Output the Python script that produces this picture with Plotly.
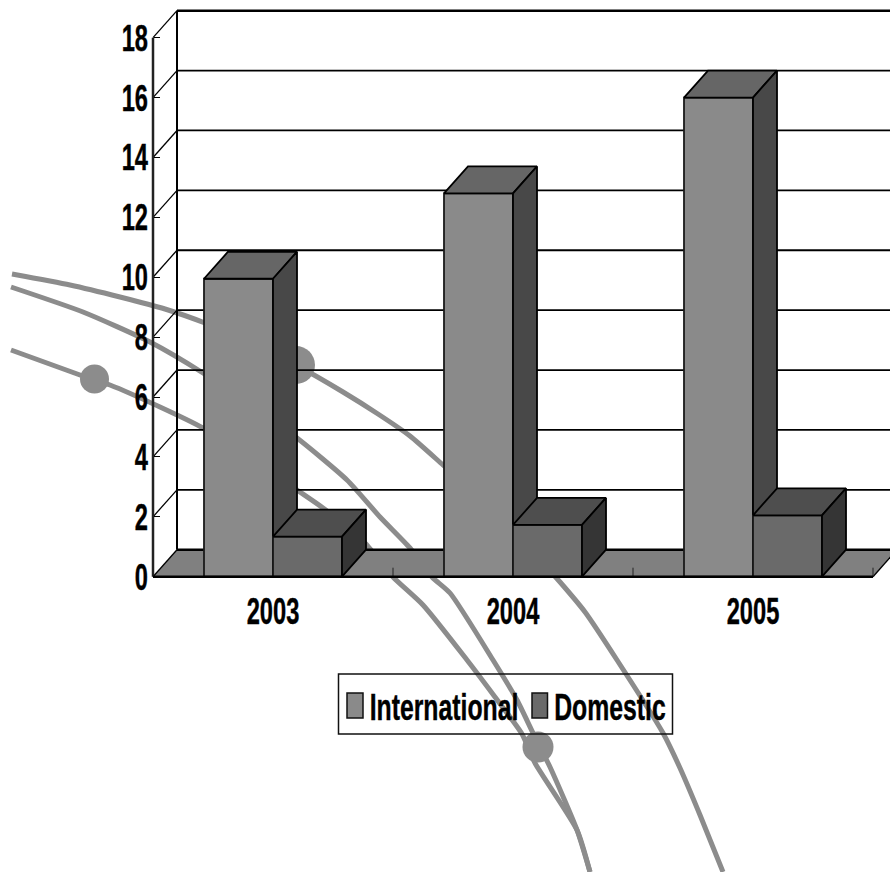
import plotly.graph_objects as go

# Chart values
years = ["2003", "2004", "2005"]
international = [9.95, 12.8, 16.0]
domestic = [1.34, 1.73, 2.05]
y_ticks = [0, 2, 4, 6, 8, 10, 12, 14, 16, 18]

# Background curves, on a 890 x 872 canvas scale
curve_a_x = [12, 70, 120, 165, 205, 250, 296, 343, 378, 410, 443, 480, 520, 560, 585, 617, 663, 680, 700, 723]
curve_a_y = [274, 285, 297, 309, 323, 342, 365, 392, 414, 436, 465, 498, 538, 582, 612, 660, 733, 768, 815, 872]
curve_b_x = [11, 83, 150, 203, 250, 297, 347, 380, 410, 432, 450, 493, 517, 533, 550, 577, 590]
curve_b_y = [287, 312, 342, 373, 405, 438, 480, 517, 548, 577, 593, 660, 700, 733, 767, 830, 872]
curve_c_x = [11, 80, 110, 160, 203, 250, 297, 323, 365, 393, 423, 467, 495, 522, 535, 577, 590]
curve_c_y = [350, 375, 385, 407, 428, 458, 490, 508, 543, 577, 605, 660, 697, 734, 763, 830, 872]
dots_x = [94.5, 296, 538]
dots_y = [379, 365, 747]
dots_size = [29, 38, 31]

WIDTH, HEIGHT = 890, 872
PX_PER_CAT, PX_PER_UNIT = 240.0, 29.945
ORIGIN_X, ORIGIN_Y = 153.0, 576.7
X_RANGE = [-0.5 - ORIGIN_X / PX_PER_CAT, -0.5 + (WIDTH - ORIGIN_X) / PX_PER_CAT]
Y_RANGE = [-(HEIGHT - ORIGIN_Y) / PX_PER_UNIT, ORIGIN_Y / PX_PER_UNIT]

DX, DY = 24 / PX_PER_CAT, 27 / PX_PER_UNIT   # oblique depth of the box
BAR_W = 69 / PX_PER_CAT
LEFT, RIGHT = -0.5, 2.5
FONT = "Liberation Sans"
FONT_SIZE = 37
CURVE_GREY = "#8c8c8c"

fig = go.Figure()


def polygon(xs, ys, fill, axes, line="#000000", width=1.8):
    fig.add_trace(go.Scatter(
        x=xs + xs[:1], y=ys + ys[:1], mode="lines", fill="toself", fillcolor=fill,
        line=dict(color=line, width=width), xaxis=axes[0], yaxis=axes[1],
        showlegend=False, hoverinfo="skip"))


def segments(pairs, axes, color="#000000", width=1.5):
    xs, ys = [], []
    for (x0, y0, x1, y1) in pairs:
        xs += [x0, x1, None]
        ys += [y0, y1, None]
    fig.add_trace(go.Scatter(
        x=xs, y=ys, mode="lines", line=dict(color=color, width=width),
        xaxis=axes[0], yaxis=axes[1], showlegend=False, hoverinfo="skip"))


# Layer 0: grey curves and dots behind the chart
for cx, cy in [(curve_a_x, curve_a_y), (curve_b_x, curve_b_y), (curve_c_x, curve_c_y)]:
    fig.add_trace(go.Scatter(
        x=cx, y=cy, mode="lines", line=dict(color=CURVE_GREY, width=5, shape="spline", smoothing=0.6),
        showlegend=False, hoverinfo="skip"))
fig.add_trace(go.Scatter(
    x=dots_x, y=dots_y, mode="markers",
    marker=dict(color=CURVE_GREY, size=dots_size, opacity=1, line=dict(width=0)),
    showlegend=False, hoverinfo="skip"))

# Layer 1: box walls, gridlines and floor
BOX = ("x2", "y2")
polygon([LEFT, LEFT + DX, RIGHT + DX, RIGHT], [0, DY, DY, 0], "#808080", BOX, line="#808080", width=0)
segments([(LEFT + DX, v + DY, X_RANGE[1] + 0.1, v + DY) for v in y_ticks[1:-1]], BOX, width=1.8)
segments([(LEFT + DX, 18 + DY, X_RANGE[1] + 0.1, 18 + DY), (LEFT + DX, DY, X_RANGE[1] + 0.1, DY)], BOX, width=2.5)
segments([(LEFT, v, LEFT + DX, v + DY) for v in y_ticks] + [(RIGHT, 0, RIGHT + DX, DY)], BOX, width=1.3)
segments([(LEFT + DX, DY, LEFT + DX, 18 + DY)], BOX, width=2)
segments([(LEFT, 0, LEFT, 18)], BOX, color="#222222", width=2.5)
segments([(i + 0.5, 0, i + 0.5, 9 / PX_PER_UNIT) for i in range(3)], BOX, color="#222222", width=1)


def draw_bars(values, offset, front, top, side, axes, name):
    xs = [i + offset for i in range(len(values))]
    fig.add_trace(go.Bar(
        x=xs, y=values, width=BAR_W, name=name, xaxis=axes[0], yaxis=axes[1],
        marker=dict(color=front, line=dict(color="#1a1a1a", width=1.8)),
        showlegend=False, hoverinfo="skip"))
    for x, v in zip(xs, values):
        x0, x1 = x - BAR_W / 2, x + BAR_W / 2
        polygon([x0, x1, x1 + DX, x0 + DX], [v, v, v + DY, v + DY], top, axes)
        polygon([x1, x1 + DX, x1 + DX, x1], [v, v + DY, DY, 0], side, axes)


# Layers 2 and 3: each domestic bar sits in front of its international neighbour
draw_bars(international, -BAR_W / 2, "#8a8a8a", "#666666", "#484848", ("x3", "y3"), "International")
draw_bars(domestic, BAR_W / 2, "#6a6a6a", "#4e4e4e", "#353535", ("x4", "y4"), "Domestic")
segments([(LEFT, 0, RIGHT, 0)], ("x4", "y4"), width=2.5)

hidden = dict(visible=False, fixedrange=True)
tick_font = dict(family=FONT, size=FONT_SIZE, color="#000000", weight="bold")
fig.update_layout(
    width=WIDTH, height=HEIGHT, margin=dict(l=0, r=0, t=0, b=0),
    paper_bgcolor="white", plot_bgcolor="rgba(0,0,0,0)",
    barmode="overlay", showlegend=False,
    xaxis=dict(range=[0, WIDTH], **hidden),
    yaxis=dict(range=[HEIGHT, 0], **hidden),
    xaxis2=dict(
        range=X_RANGE, overlaying="x", anchor="free", position=(HEIGHT - ORIGIN_Y) / HEIGHT,
        tickvals=[0, 1, 2], ticktext=years, ticks="outside", ticklen=2, tickcolor="rgba(0,0,0,0)",
        showgrid=False, zeroline=False, showline=False, fixedrange=True, tickfont=tick_font,
    ),
    yaxis2=dict(
        range=Y_RANGE, overlaying="y", anchor="free", position=ORIGIN_X / WIDTH,
        tickvals=y_ticks, ticks="inside", ticklen=6, tickwidth=1.3, tickcolor="#000000",
        ticklabelstandoff=5,
        showgrid=False, zeroline=False, showline=False, fixedrange=True, tickfont=tick_font,
    ),
    xaxis3=dict(range=X_RANGE, overlaying="x", **hidden),
    yaxis3=dict(range=Y_RANGE, overlaying="y", **hidden),
    xaxis4=dict(range=X_RANGE, overlaying="x", **hidden),
    yaxis4=dict(range=Y_RANGE, overlaying="y", **hidden),
)


def px_x(p):
    return p / WIDTH


def px_y(p):
    return 1 - p / HEIGHT


def legend_rect(x0, y0, x1, y1, fill, line_width):
    fig.add_shape(type="rect", xref="paper", yref="paper", layer="above",
                  x0=px_x(x0), x1=px_x(x1), y0=px_y(y0), y1=px_y(y1),
                  fillcolor=fill, line=dict(color="#111111", width=line_width))


def legend_label(x_center, box_width, text):
    fig.add_annotation(x=px_x(x_center), y=px_y(707), xref="paper", yref="paper",
                       xanchor="center", yanchor="middle", text=text, showarrow=False,
                       width=box_width, align="center", borderpad=0,
                       font=dict(family=FONT, size=FONT_SIZE, color="#000000", weight="bold"))


# Key with a see-through background
legend_rect(338.5, 674, 672.5, 734, "rgba(0,0,0,0)", 1.5)
legend_rect(347, 693, 363, 718, "#8a8a8a", 1.5)
legend_rect(532, 693, 547.5, 718, "#6a6a6a", 1.5)
legend_label(443.5, 148, "International")
legend_label(610, 112, "Domestic")

# No narrow bold face is installed, so the labels are condensed in the browser
CONDENSE_TEXT = """
var heavy = function (t) {
  t.style.stroke = '#000';
  t.style.strokeWidth = '0.4px';
};
document.querySelectorAll('.x2tick text, .y2tick text').forEach(function (t) {
  t.setAttribute('textLength', t.getComputedTextLength() * 0.64);
  t.setAttribute('lengthAdjust', 'spacingAndGlyphs');
  heavy(t);
});
document.querySelectorAll('.annotation-text').forEach(function (t) {
  t.removeAttribute('clip-path');
  t.style.clipPath = 'none';
  if (t.parentNode) { t.parentNode.removeAttribute('clip-path'); }
  t.style.transformBox = 'fill-box';
  t.style.transformOrigin = 'center';
  t.style.transform = 'scaleX(0.67)';
  heavy(t);
});
"""

fig.write_html("out.html", post_script=CONDENSE_TEXT)
